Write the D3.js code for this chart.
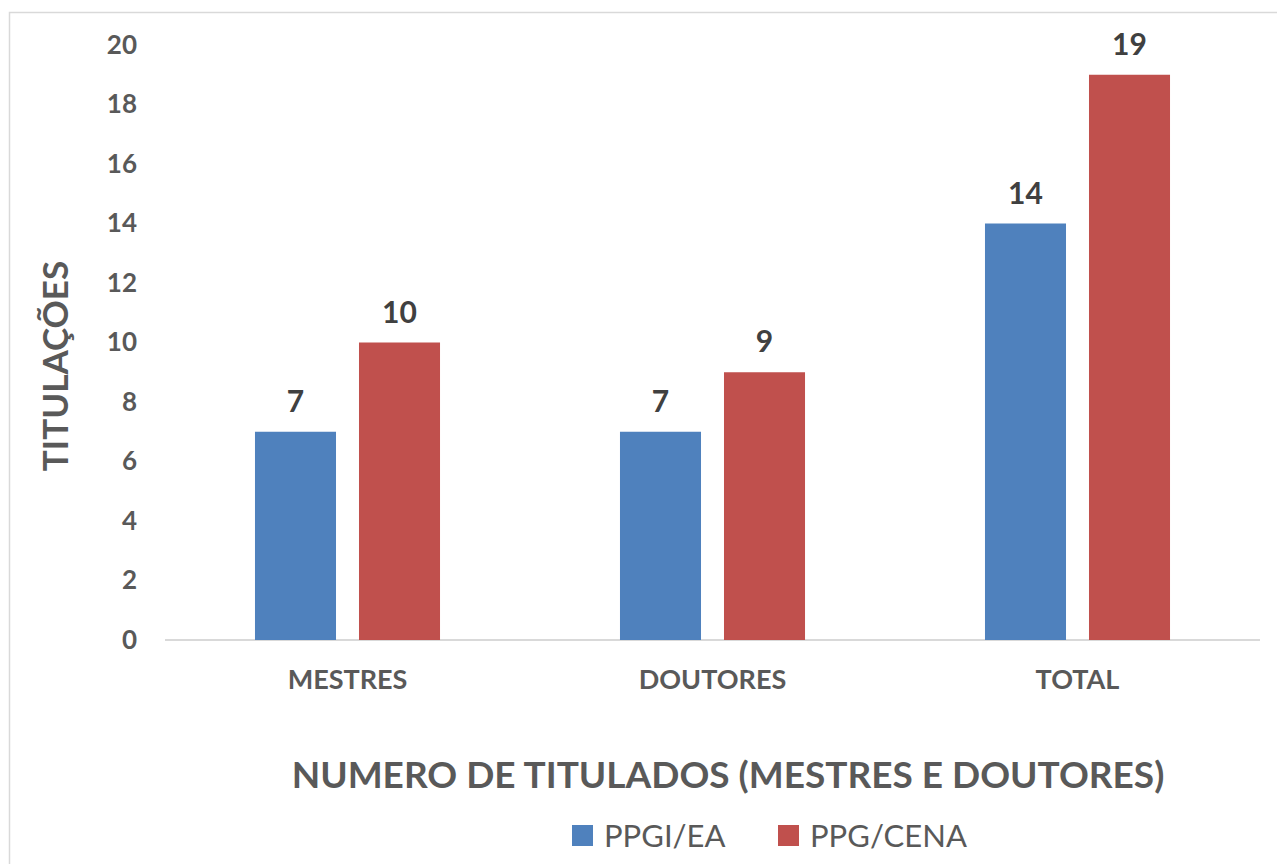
<!DOCTYPE html>
<html lang="pt">
<head>
    <meta charset="UTF-8">
    <title>Titulações</title>
    <script src="https://d3js.org/d3.v7.min.js"></script>
    <style>
        body { margin: 0; background: #fff; }
        text { font-family: Lato, "Open Sans", sans-serif; }
    </style>
</head>
<body>
    <svg width="1277" height="864"></svg>
    <script>
        const categories = ["MESTRES", "DOUTORES", "TOTAL"];
        const seriesNames = ["PPGI/EA", "PPG/CENA"];
        const ppgiEa = [7, 7, 14];
        const ppgCena = [10, 9, 19];
        const yTicks = [0, 2, 4, 6, 8, 10, 12, 14, 16, 18, 20];
        const colors = ["#4F81BD", "#C0504D"];

        const svg = d3.select("svg");

        // borda do gráfico
        svg.append("rect")
            .attr("x", 9.5).attr("y", 12.5)
            .attr("width", 1290).attr("height", 880)
            .attr("fill", "none").attr("stroke", "#D9D9D9").attr("stroke-width", 1.5);

        const plotLeft = 165, plotRight = 1260, plotTop = 45, plotBottom = 640;

        const x0 = d3.scaleBand().domain(categories).range([plotLeft, plotRight]).paddingInner(0).paddingOuter(0);
        const x1 = d3.scaleBand().domain(seriesNames).range([0, x0.bandwidth()]).paddingInner(0.221).paddingOuter(0.865);
        const y = d3.scaleLinear().domain([0, 20]).range([plotBottom, plotTop]);

        const rows = categories.map((c, i) => ({ cat: c, vals: [ppgiEa[i], ppgCena[i]] }));

        // eixo y (só rótulos)
        const yAxis = svg.append("g")
            .attr("transform", `translate(${plotLeft},0)`)
            .call(d3.axisLeft(y).tickValues(yTicks).tickSize(0).tickPadding(28));
        yAxis.select(".domain").remove();
        yAxis.selectAll("text")
            .attr("fill", "#595959")
            .style("font-size", "26px")
            .style("font-weight", "bold");

        // linha base
        svg.append("line")
            .attr("x1", plotLeft).attr("x2", plotRight)
            .attr("y1", y(0)).attr("y2", y(0))
            .attr("stroke", "#D9D9D9").attr("stroke-width", 2);

        const g = svg.selectAll(".cat")
            .data(rows)
            .enter()
            .append("g")
            .attr("transform", d => `translate(${x0(d.cat)},0)`);

        const bar = g.selectAll(".bar")
            .data(d => d.vals.map((v, j) => ({ name: seriesNames[j], v: v, j: j })))
            .enter();

        bar.append("rect")
            .attr("x", d => x1(d.name))
            .attr("y", d => y(d.v))
            .attr("width", x1.bandwidth())
            .attr("height", d => y(0) - y(d.v))
            .attr("fill", d => colors[d.j]);

        bar.append("text")
            .attr("x", d => x1(d.name) + x1.bandwidth() / 2)
            .attr("y", d => y(d.v) - 20)
            .attr("text-anchor", "middle")
            .attr("fill", "#404040")
            .style("font-size", "30px")
            .style("font-weight", "bold")
            .text(d => d.v);

        // rótulos das categorias
        const xAxis = svg.append("g")
            .attr("transform", `translate(0,${plotBottom})`)
            .call(d3.axisBottom(x0).tickSize(0).tickPadding(30));
        xAxis.select(".domain").remove();
        xAxis.selectAll("text")
            .attr("fill", "#595959")
            .style("font-size", "27px")
            .style("font-weight", "bold");

        // títulos
        svg.append("text")
            .attr("x", 728).attr("y", 788)
            .attr("text-anchor", "middle")
            .attr("fill", "#595959")
            .style("font-size", "37px")
            .style("font-weight", "bold")
            .text("NUMERO DE TITULADOS (MESTRES E DOUTORES)");

        svg.append("text")
            .attr("transform", "translate(68,366) rotate(-90)")
            .attr("text-anchor", "middle")
            .attr("fill", "#595959")
            .style("font-size", "35px")
            .style("font-weight", "bold")
            .text("TITULAÇÕES");

        // legenda
        const legend = svg.append("g").attr("transform", "translate(572,825)");
        const lx = [0, 206];
        seriesNames.forEach((n, i) => {
            legend.append("rect")
                .attr("x", lx[i]).attr("y", 0)
                .attr("width", 21).attr("height", 21)
                .attr("fill", colors[i]);
            legend.append("text")
                .attr("x", lx[i] + 32).attr("y", 22)
                .attr("fill", "#595959")
                .style("font-size", "31px")
                .text(n);
        });
    </script>
</body>
</html>
